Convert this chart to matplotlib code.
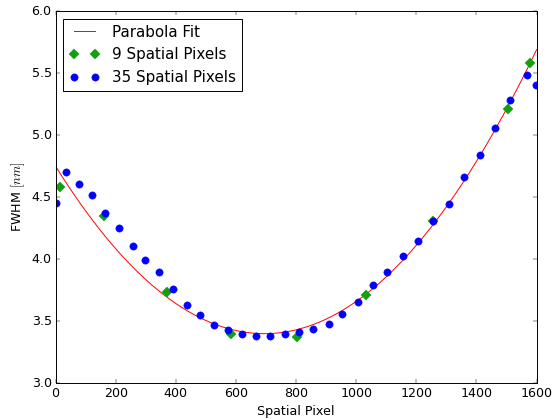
import numpy as np
import matplotlib
matplotlib.use('Agg')
import matplotlib.pyplot as plt

plt.style.use('classic')
plt.rcParams['font.size'] = 13

# 35 spatial pixels
x35 = [0, 35, 79, 122, 166, 210, 257, 299, 344, 390, 436, 481, 526, 574, 620,
       666, 713, 762, 809, 856, 908, 954, 1006, 1055, 1104, 1155, 1206, 1257,
       1308, 1357, 1410, 1462, 1512, 1567, 1598]
y35 = [4.45, 4.70, 4.61, 4.52, 4.37, 4.25, 4.11, 3.99, 3.90, 3.76, 3.63, 3.55,
       3.47, 3.43, 3.40, 3.385, 3.385, 3.395, 3.41, 3.44, 3.48, 3.555, 3.655,
       3.79, 3.895, 4.025, 4.145, 4.31, 4.445, 4.66, 4.84, 5.055, 5.28, 5.485,
       5.40]

# 9 spatial pixels
x9 = [15, 160, 370, 584, 804, 1031, 1257, 1505, 1577]
y9 = [4.58, 4.35, 3.735, 3.40, 3.375, 3.71, 4.31, 5.21, 5.585]

# parabola fit coefficients (a*x^2 + b*x + c)
fit_coeffs = [2.795e-6, -3.885e-3, 4.75]

xfit = np.linspace(0, 1600, 400)
yfit = np.polyval(fit_coeffs, xfit)

fig = plt.figure(figsize=(559 / 70, 419 / 70), dpi=70, facecolor='white')
ax = fig.add_axes([0.0993, 0.0852, 0.8607, 0.8885])
ax.plot(xfit, yfit, 'r-', lw=1, label='Parabola Fit')
ax.plot(x9, y9, 'D', color='#10a010', mec='#10a010', ms=7, label='9 Spatial Pixels')
ax.plot(x35, y35, 'o', color='b', mec='b', ms=7.5, label='35 Spatial Pixels')

ax.set_xlim(0, 1600)
ax.set_ylim(3.0, 6.0)
ax.set_xlabel('Spatial Pixel')
ax.set_ylabel('FWHM $[nm]$')
ax.legend(loc='upper left', numpoints=2)

fig.savefig('out.png', dpi=70, facecolor='white')
